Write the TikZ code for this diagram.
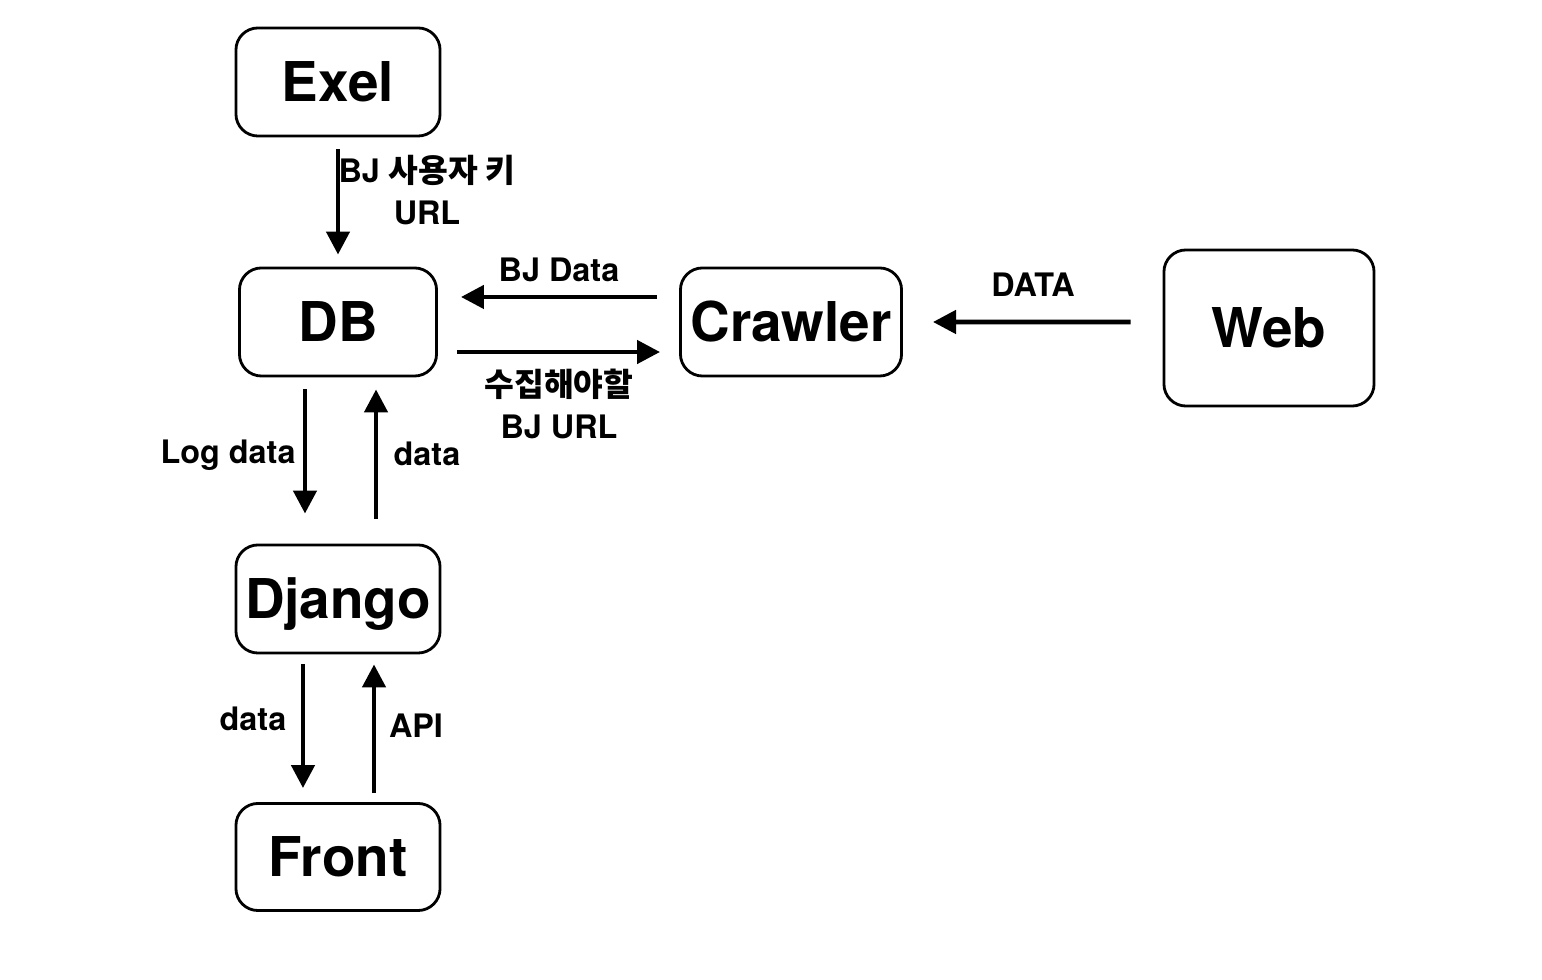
\documentclass[tikz,border=0pt]{standalone}
\usepackage{fontspec}
\setmainfont{TeX Gyre Heros}
\newfontfamily\kr{Noto Sans CJK KR}
\usetikzlibrary{arrows.meta}
\tikzset{
  box/.style={draw, line width=0.8pt, rounded corners=0.22cm, inner sep=0pt,
    font=\fontsize{15.6}{18}\selectfont\bfseries, text height=11.2pt, text depth=0pt},
  arr/.style={line width=1.3pt, -{Triangle[length=0.23cm,width=0.23cm]}},
  lbl/.style={font=\fontsize{9.2}{11}\selectfont\bfseries, anchor=base, inner sep=0pt},
}
\begin{document}
\begin{tikzpicture}[x=0.01cm,y=-0.01cm]
\useasboundingbox (0,0) rectangle (1542,980);
\node[box, minimum width=2.04cm, minimum height=1.08cm] (exel) at (338,82) {Exel};
\node[box, minimum width=1.97cm, minimum height=1.08cm] (db) at (338,322) {DB};
\node[box, minimum width=2.21cm, minimum height=1.08cm] (crawler) at (791,322) {Crawler};
\node[box, minimum width=2.10cm, minimum height=1.56cm] (web) at (1269,328) {Web};
\node[box, minimum width=2.04cm, minimum height=1.08cm] (django) at (338,599) {Django};
\node[box, minimum width=2.04cm, minimum height=1.07cm] (front) at (338,857) {Front};

\draw[arr, shorten <=0.12cm, shorten >=0.12cm] (exel.south) -- (db.north);
\draw[arr, shorten <=0.22cm, shorten >=0.23cm] ([yshift=0.25cm]crawler.west) -- ([yshift=0.25cm]db.east);
\draw[arr, shorten <=0.19cm, shorten >=0.19cm] ([yshift=-0.30cm]db.east) -- ([yshift=-0.30cm]crawler.west);
\draw[arr, shorten <=0.32cm, shorten >=0.30cm] ([yshift=0.06cm]web.west) -- (crawler.east);
\draw[arr, shorten <=0.12cm, shorten >=0.30cm] ([xshift=-0.33cm]db.south) -- ([xshift=-0.33cm]django.north);
\draw[arr, shorten <=0.25cm, shorten >=0.12cm] ([xshift=0.38cm]django.north) -- ([xshift=0.38cm]db.south);
\draw[arr, shorten <=0.10cm, shorten >=0.14cm] ([xshift=-0.35cm]django.south) -- ([xshift=-0.35cm]front.north);
\draw[arr, shorten <=0.09cm, shorten >=0.10cm] ([xshift=0.36cm]front.north) -- ([xshift=0.36cm]django.south);

\node[lbl] (l1) at (427,183) {BJ {\kr\bfseries 사용자 키}};
\node[lbl] (l1b) at (427,225) {URL};
\node[lbl] (l2) at (559,282) {BJ Data};
\node[lbl] (l3) at (559,397) {\kr\bfseries 수집해야할};
\node[lbl] (l3b) at (559,439) {BJ URL};
\node[lbl] (l4) at (1033,297) {DATA};
\node[lbl] (l5) at (228,464) {Log data};
\node[lbl] (l6) at (427,466) {data};
\node[lbl] (l7) at (253,731) {data};
\node[lbl] (l8) at (416,738) {API};
\end{tikzpicture}
\end{document}
